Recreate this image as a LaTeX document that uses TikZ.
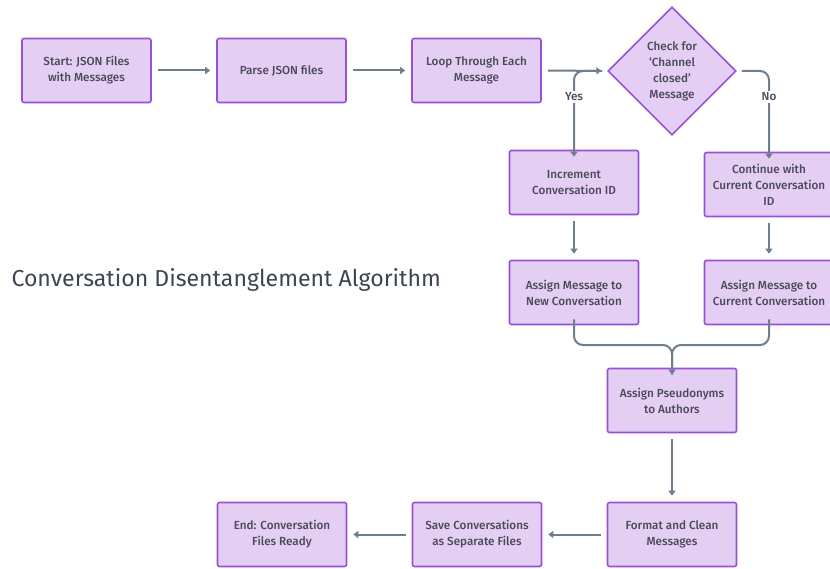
\documentclass[tikz,border=0pt]{standalone}
\usepackage{fontspec}
\setmainfont{Fira Sans}
\newfontfamily\boxfont{Fira Sans}[UprightFont={* Medium}]
\usetikzlibrary{arrows.meta,shapes.geometric}
\definecolor{boxfill}{HTML}{E4CEF3}
\definecolor{boxline}{HTML}{9A50D6}
\definecolor{linkgrey}{HTML}{6E7E8C}
\definecolor{textgrey}{HTML}{4A4A58}
\definecolor{titlegrey}{HTML}{3E4552}
\begin{document}
\begin{tikzpicture}[x=1pt,y=-1pt,
  stepbox/.style={draw=boxline,fill=boxfill,line width=1.6pt,rounded corners=2pt,
    minimum width=129pt,minimum height=64pt,align=center,text=textgrey,
    font=\boxfont\fontsize{11.7}{16}\selectfont},
  choice/.style={draw=boxline,fill=boxfill,line width=1.6pt,diamond,
    minimum width=128pt,minimum height=128pt,inner sep=0pt,align=center,text=textgrey,
    font=\boxfont\fontsize{11.7}{16}\selectfont},
  flow/.style={draw=linkgrey,line width=2pt,-{Triangle[length=5pt,width=7pt]},
    shorten <=6pt,shorten >=6pt},
  branch/.style={draw=linkgrey,line width=2pt,rounded corners=9pt},
  tag/.style={fill=white,text=textgrey,inner sep=2pt,font=\boxfont\fontsize{11.7}{12}\selectfont}]
\useasboundingbox (0,0) rectangle (830,569);

% main row
\node[stepbox] (start) at (86.5,70.5) {Start: JSON Files\\with Messages};
\node[stepbox] (parse) at (281.5,70.5) {Parse JSON files};
\node[stepbox] (loop) at (476.5,70.5) {Loop Through Each\\Message};
\node[choice] (check) at (672,71) {Check for\\‘Channel\\closed’\\Message};

% branches
\node[stepbox] (incr) at (574,182.5) {Increment\\Conversation ID};
\node[stepbox] (cont) at (769,184.5) {Continue with\\Current Conversation\\ID};
\node[stepbox] (anew) at (574,292.5) {Assign Message to\\New Conversation};
\node[stepbox] (acur) at (769,292.5) {Assign Message to\\Current Conversation};

% tail
\node[stepbox] (pseu) at (672,400.5) {Assign Pseudonyms\\to Authors};
\node[stepbox] (fmt) at (672,534.5) {Format and Clean\\Messages};
\node[stepbox] (save) at (477,534.5) {Save Conversations\\as Separate Files};
\node[stepbox] (done) at (282,534.5) {End: Conversation\\Files Ready};

\node[text=titlegrey,font=\fontsize{23.1}{27}\selectfont,anchor=west] (title) at (8,280) {Conversation Disentanglement Algorithm};

% straight links
\draw[flow] (start) -- (parse);
\draw[flow] (parse) -- (loop);
\draw[flow] (loop) -- (check);
\draw[flow] (incr) -- (anew);
\draw[flow] (cont) -- (acur);
\draw[flow] (pseu) -- (fmt);
\draw[flow] (fmt) -- (save);
\draw[flow] (save) -- (done);

% decision branches
\coordinate (yesend) at ([yshift=-7pt]incr.north);
\coordinate (noend) at ([yshift=-7pt]cont.north);
\draw[branch,-{Triangle[length=5pt,width=7pt]}] ([xshift=-5pt]check.west) -| (yesend);
\draw[branch,-{Triangle[length=5pt,width=7pt]}] ([xshift=5pt]check.east) -| (noend);
\node[tag] (yes) at (574,97) {Yes};
\node[tag] (no) at (769,97) {No};

% merge into pseudonyms
\coordinate (join) at (672,345);
\coordinate (merged) at ([yshift=-7pt]pseu.north);
\draw[branch] ([yshift=6pt]anew.south) |- (join) -- (merged);
\draw[branch,-{Triangle[length=5pt,width=7pt]}] ([yshift=6pt]acur.south) |- (join) -- (merged);
\end{tikzpicture}
\end{document}
